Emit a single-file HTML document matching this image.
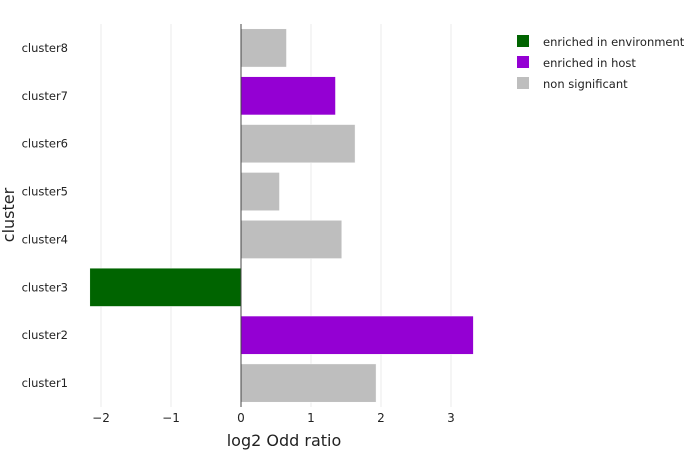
<!DOCTYPE html>
<html><head><meta charset="utf-8"><style>
body{margin:0;background:#fff;}
svg{font-family:"DejaVu Sans","Liberation Sans",sans-serif;}
</style></head><body>
<svg width="700" height="450">
<g id="grid"></g><g id="bars"></g><g id="axes"></g>
<g font-size="11.5" fill="#222">
<rect x="517" y="35" width="12" height="12" fill="#006400"/>
<text x="543" y="46">enriched in environment</text>
<rect x="517" y="56" width="12" height="12" fill="#9400D3"/>
<text x="543" y="67">enriched in host</text>
<rect x="517" y="77" width="12" height="12" fill="#BEBEBE"/>
<text x="543" y="88">non significant</text>
</g>
<text x="284" y="446" font-size="16" text-anchor="middle" fill="#222">log2 Odd ratio</text>
<text transform="translate(14,215) rotate(-90)" font-size="16" text-anchor="middle" fill="#222">cluster</text>
</svg>
<script>
const categories=["cluster1","cluster2","cluster3","cluster4","cluster5","cluster6","cluster7","cluster8"];
const values=[1.93,3.32,-2.16,1.44,0.55,1.63,1.35,0.65];
const groups=["non","host","env","non","non","non","host","non"];
const xTicks=[-2,-1,0,1,2,3];
const xTickLabels=["\u22122","\u22121","0","1","2","3"];
const colors={env:"#006400",host:"#9400D3",non:"#BEBEBE"};
const NS="http://www.w3.org/2000/svg";
const xs=v=>241+v*70;
const plotTop=24,plotBottom=407,step=(plotBottom-plotTop)/categories.length;
const yc=i=>plotBottom-step*(i+0.5);
function mk(t,a,p){const e=document.createElementNS(NS,t);for(const k in a)e.setAttribute(k,a[k]);p.appendChild(e);return e;}
const grid=document.getElementById('grid'),bars=document.getElementById('bars'),axes=document.getElementById('axes');
xTicks.forEach((t,i)=>{
 if(t!==0){const l=mk('line',{x1:xs(t),x2:xs(t),y1:plotTop,y2:plotBottom,stroke:'#ebebeb','stroke-width':1},grid);
 
 }
 const tx=mk('text',{x:xs(t),y:422,'font-size':12,'text-anchor':'middle',fill:'#222'},axes);
 tx.textContent=xTickLabels[i];
 
 
});
categories.forEach((c,i)=>{
 const v=values[i],h=step*0.8;
 const r=mk('rect',{x:Math.min(xs(0),xs(v)),y:yc(i)-h/2,width:Math.abs(xs(v)-xs(0)),height:h,fill:colors[groups[i]],stroke:'#fff','stroke-width':0.5},bars);
 
 
 const tx=mk('text',{x:68,y:yc(i)+4,'font-size':11.5,'text-anchor':'end',fill:'#222'},axes);
 tx.textContent=c;
 
 
});
const z=mk('line',{x1:xs(0),x2:xs(0),y1:plotTop,y2:plotBottom,stroke:'#444','stroke-width':1},axes);


</script>
</body></html>
